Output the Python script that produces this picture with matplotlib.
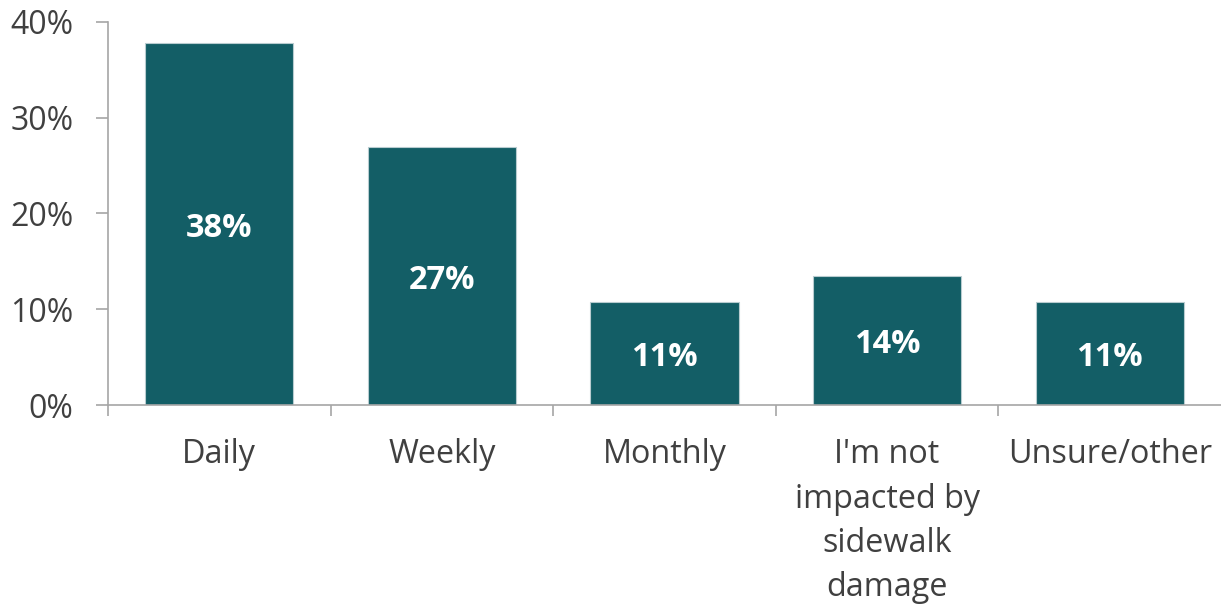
import matplotlib.pyplot as plt
import numpy as np

plt.rcParams['font.family'] = ['Open Sans', 'DejaVu Sans']

categories = ["Daily", "Weekly", "Monthly", "I'm not\nimpacted by\nsidewalk\ndamage", "Unsure/other"]
values = [37.8, 26.9, 10.8, 13.5, 10.8]
value_labels = ["38%", "27%", "11%", "14%", "11%"]
yticks = [0, 10, 20, 30, 40]
ytick_labels = ["0%", "10%", "20%", "30%", "40%"]

bar_color = "#135e66"
text_color = "#404040"
axis_color = "#a6a6a6"

fig = plt.figure(figsize=(12.21, 6.05), dpi=100)
ax = fig.add_axes([108 / 1221, 1 - 405 / 605, 1 - 108 / 1221, (405 - 22) / 605])

x = np.arange(len(categories))
bars = ax.bar(x, values, width=0.665, color=bar_color, edgecolor="#b8ccd0", linewidth=0.8, zorder=2)

for xi, v, lab in zip(x, values, value_labels):
    ax.text(xi, v / 2, lab, ha="center", va="center_baseline", color="white",
            fontsize=23.5, fontweight="bold")

ax.set_xlim(-0.5, len(categories) - 0.5)
ax.set_ylim(0, 40)
ax.set_yticks(yticks)
ax.set_yticklabels(ytick_labels)
ax.set_xticks(x)
ax.set_xticklabels(categories, linespacing=1.45, va="top")
ax.set_xticks(np.arange(-0.5, len(categories) - 0.5, 1), minor=True)

ax.tick_params(axis="y", length=9, width=1.2, color=axis_color, labelcolor=text_color,
               labelsize=23, pad=16)
ax.tick_params(axis="x", which="major", length=0, labelcolor=text_color, labelsize=23.3, pad=24)
ax.tick_params(axis="x", which="minor", length=8, width=1.2, color=axis_color)

for side in ["top", "right"]:
    ax.spines[side].set_visible(False)
for side in ["left", "bottom"]:
    ax.spines[side].set_color(axis_color)
    ax.spines[side].set_linewidth(1.2)

fig.savefig("out.png", dpi=100)
